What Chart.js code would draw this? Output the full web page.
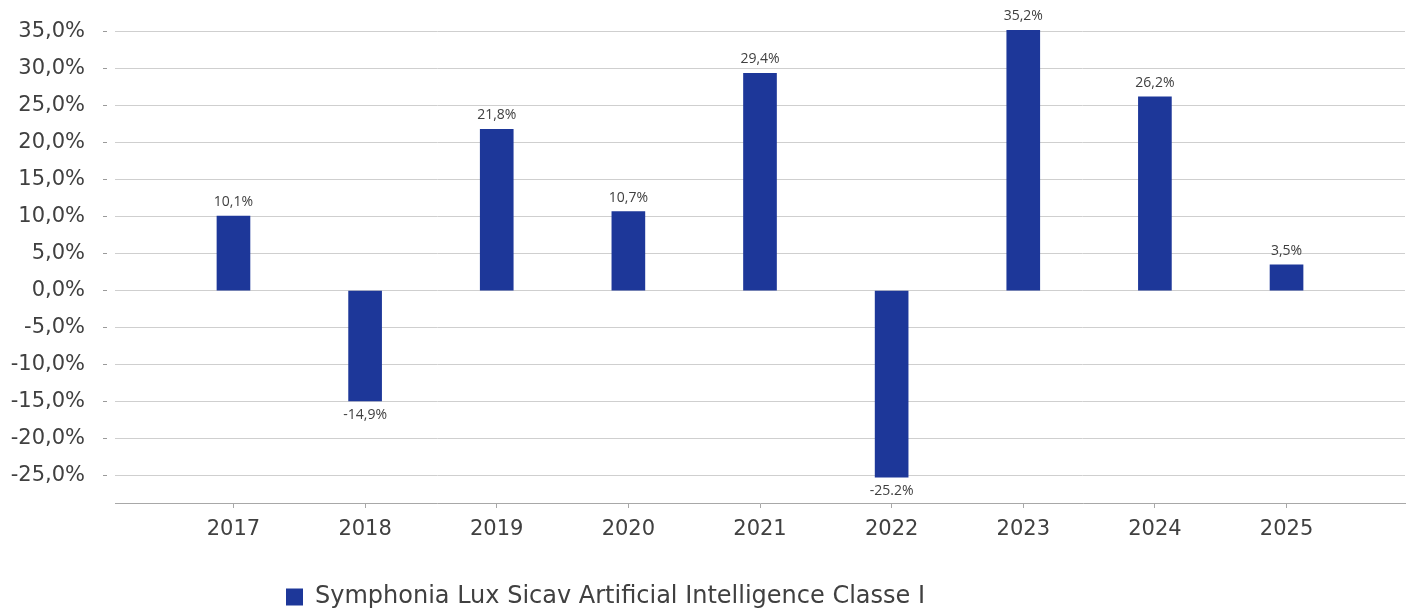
<!DOCTYPE html>
<html>
<head>
<meta charset="utf-8">
<script src="https://cdn.jsdelivr.net/npm/chart.js@4/dist/chart.umd.min.js"></script>
<style>
  html, body { margin: 0; padding: 0; background: #fff; }
  #wrap { width: 1412px; height: 609px; position: relative; }
</style>
</head>
<body>
<div id="wrap"><canvas id="perfChart"></canvas></div>
<script>
const years = ['2017', '2018', '2019', '2020', '2021', '2022', '2023', '2024', '2025'];
const returns = [10.1, -14.9, 21.8, 10.7, 29.4, -25.2, 35.2, 26.2, 3.5];
const returnLabels = ['10,1%', '-14,9%', '21,8%', '10,7%', '29,4%', '-25.2%', '35,2%', '26,2%', '3,5%'];
const yTicks = [-25, -20, -15, -10, -5, 0, 5, 10, 15, 20, 25, 30, 35];
const seriesName = 'Symphonia Lux Sicav Artificial Intelligence Classe I';

const FONT = "'DejaVu Sans', sans-serif";
const LABEL_FONT = "'Open Sans', sans-serif";
const TEXT = '#404040';
const BAR = '#1d3799';

// value labels above / below each bar
const barLabels = {
  id: 'barLabels',
  afterDatasetsDraw(chart) {
    const ctx = chart.ctx;
    const meta = chart.getDatasetMeta(0);
    ctx.save();
    ctx.font = '14px ' + LABEL_FONT;
    ctx.fillStyle = TEXT;
    ctx.textAlign = 'center';
    ctx.textBaseline = 'middle';
    meta.data.forEach((bar, i) => {
      const up = returns[i] >= 0;
      ctx.fillText(returnLabels[i], bar.x, bar.y + (up ? -14 : 14));
    });
    ctx.restore();
  }
};

// legend is not centred in the original, push it left
const legendShift = {
  id: 'legendShift',
  afterLayout(chart) {
    chart.legend.left = 284;
  }
};

new Chart(document.getElementById('perfChart'), {
  type: 'bar',
  data: {
    datasets: [{
      label: seriesName,
      data: years.map((y, i) => ({ x: i, y: returns[i] })),
      backgroundColor: BAR,
      borderWidth: 0,
      barThickness: 33
    }]
  },
  options: {
    responsive: true,
    maintainAspectRatio: false,
    animation: false,
    layout: { padding: { top: 17, right: 7, left: 0, bottom: -10 } },
    scales: {
      x: {
        type: 'linear',
        offset: false,
        min: -0.9,
        max: 8.9,
        afterBuildTicks: scale => { scale.ticks = years.map((y, i) => ({ value: i })); },
        afterFit: scale => { scale.height = 80; },
        border: { display: true, color: '#a8a8a8', width: 1 },
        grid: {
          offset: false,
          drawOnChartArea: false,
          drawTicks: true,
          tickLength: 5,
          color: '#a8a8a8'
        },
        ticks: {
          autoSkip: false,
          maxRotation: 0,
          padding: 9,
          color: TEXT,
          font: { family: FONT, size: 21 },
          callback: v => years[v]
        }
      },
      y: {
        min: -28.7,
        max: 37,
        afterBuildTicks: scale => { scale.ticks = yTicks.map(v => ({ value: v })); },
        afterFit: scale => {
          scale.width = 115;
          scale.paddingTop = 0;
          scale.paddingBottom = 0;
        },
        border: { display: false },
        grid: {
          color: '#cfcfcf',
          lineWidth: 1,
          drawTicks: true,
          tickLength: 12,
          tickColor: '#9a9a9a',
          tickBorderDash: [4, 20]
        },
        ticks: {
          padding: 18,
          color: TEXT,
          font: { family: FONT, size: 21 },
          callback: v => v.toFixed(1).replace('.', ',') + '%'
        }
      }
    },
    plugins: {
      legend: {
        display: true,
        position: 'bottom',
        align: 'start',
        labels: {
          boxWidth: 17,
          boxHeight: 17,
          padding: 2,
          color: TEXT,
          font: { family: FONT, size: 24 }
        }
      },
      tooltip: { enabled: false }
    }
  },
  plugins: [barLabels, legendShift]
});
</script>
</body>
</html>
